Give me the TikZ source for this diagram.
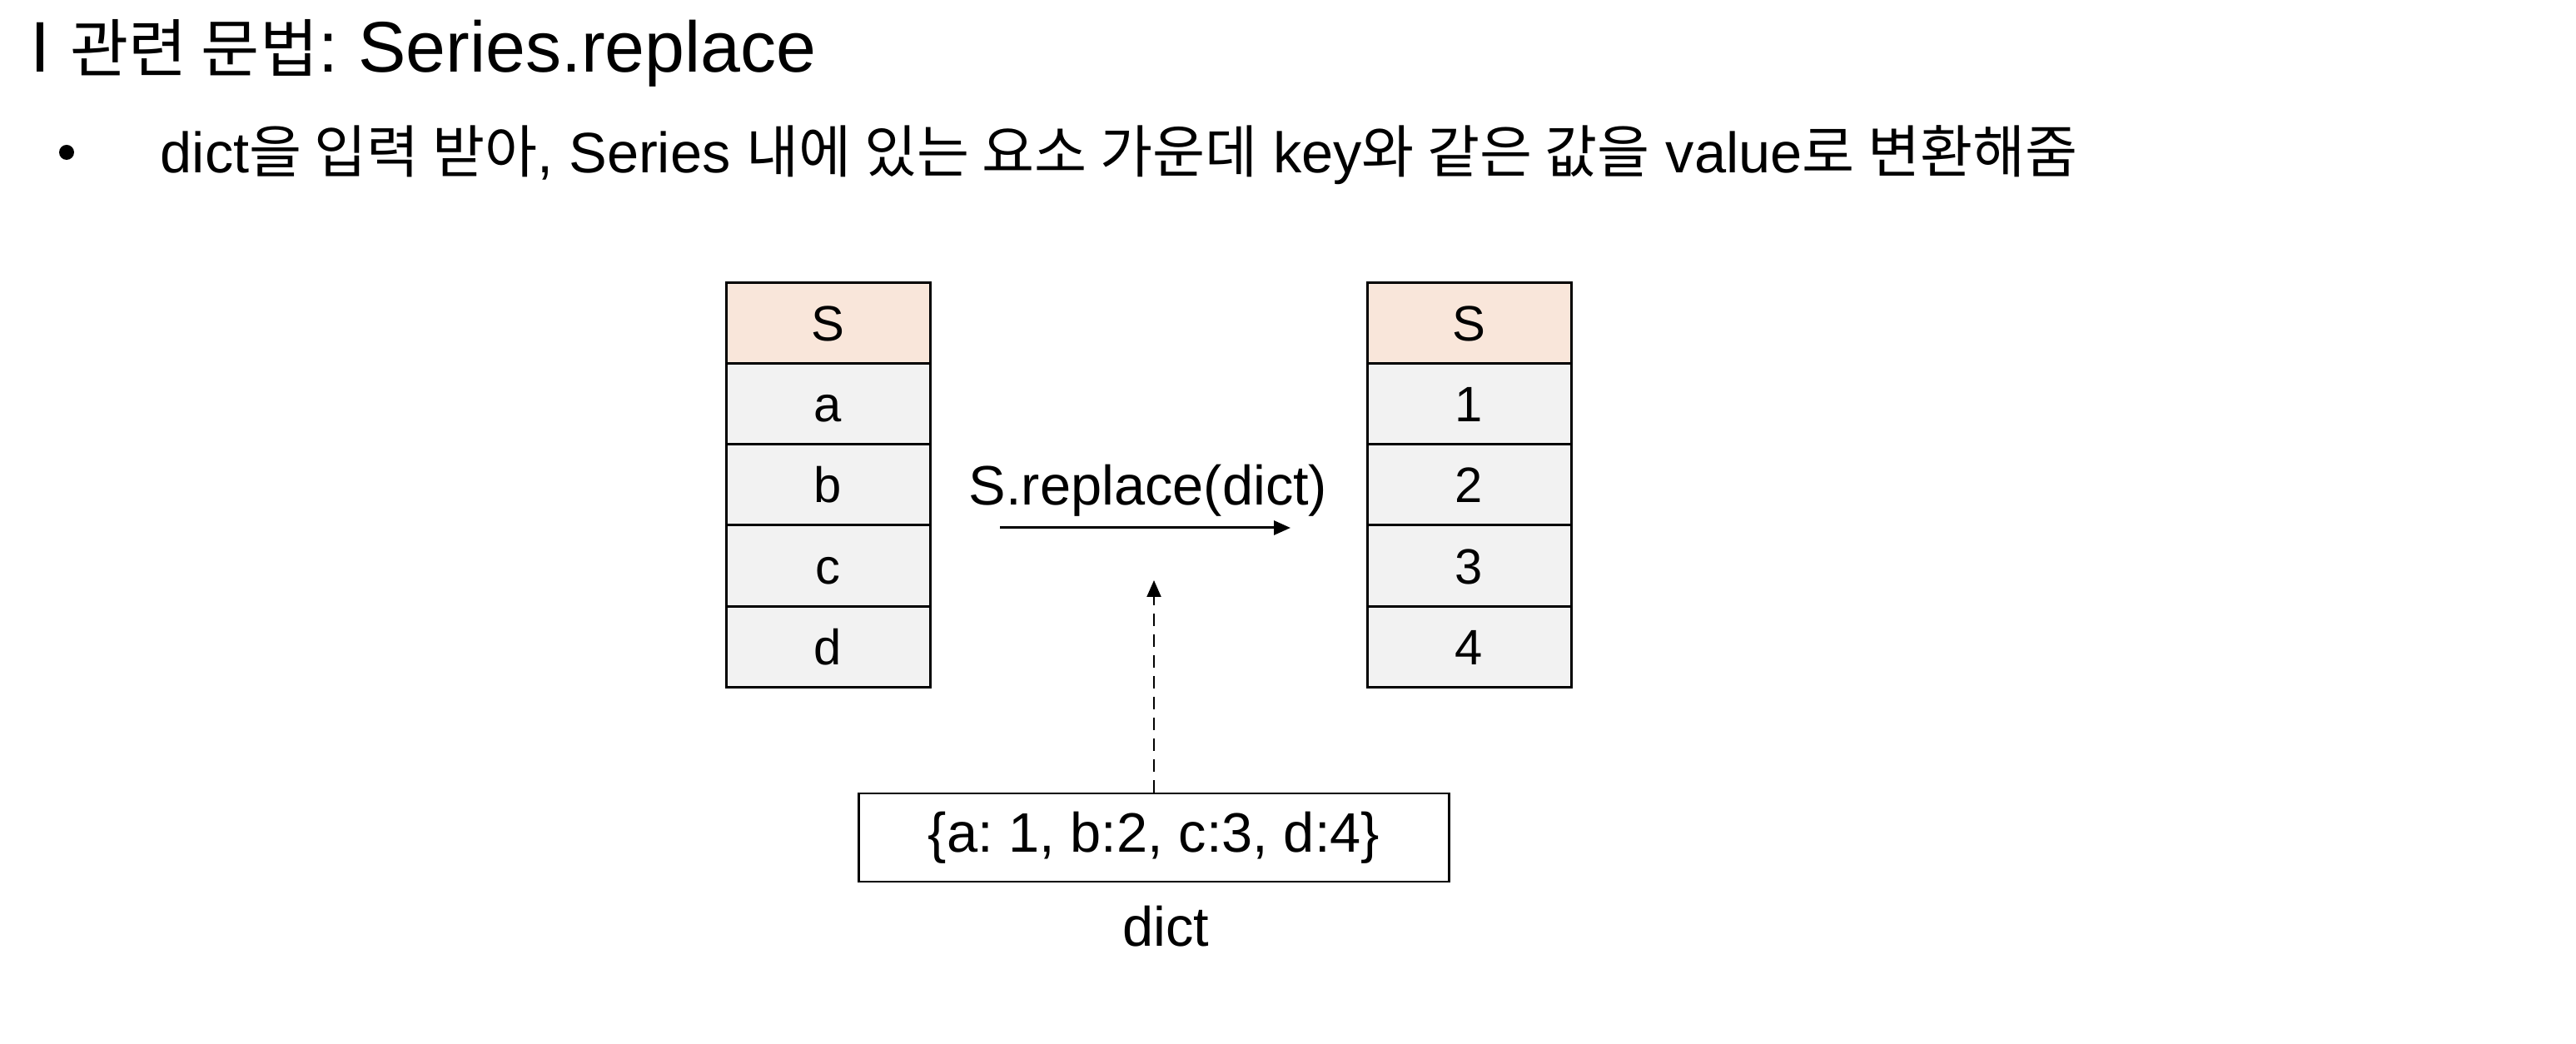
\documentclass[tikz,border=0pt]{standalone}
\usepackage{fontspec}
\setmainfont{Liberation Sans}
\newfontfamily\kr{Noto Sans CJK KR}
\usepackage{tikz}
\usetikzlibrary{positioning,arrows.meta}
\definecolor{headfill}{HTML}{F9E6DA}
\definecolor{cellfill}{HTML}{F2F2F2}
\frenchspacing

\begin{document}
\begin{tikzpicture}[
    cellbox/.style={draw, line width=0.85pt, fill=cellfill, minimum width=2.45cm, minimum height=0.972cm, inner sep=0pt, outer sep=0pt, text height=0.43cm, text depth=0pt, font=\fontsize{17}{20}\selectfont},
    headbox/.style={cellbox, fill=headfill},
    txt/.style={inner sep=0pt, font=\fontsize{19}{23}\selectfont},
    tip/.style={-{Triangle[length=0.2cm, width=0.17cm]}}
]
    % Page size
    \useasboundingbox (0,0) rectangle (30.94,-12.54);
    % Title and bullet line
    \node[anchor=base west, inner sep=0pt, font=\fontsize{24.5}{28}\selectfont] (title) at (0.36,-0.87) {I {\kr\fontsize{21.7}{26}\selectfont 관련 문법}: Series.replace};
    \node[circle, fill, inner sep=0pt, minimum size=0.18cm] (dot) at (0.80,-1.83) {};
    \node[anchor=base west, inner sep=0pt, font=\fontsize{19.5}{23}\selectfont] (desc) at (1.92,-2.08) {dict{\kr 을 입력 받아}, Series {\kr 내에 있는 요소 가운데} key{\kr 와 같은 값을} value{\kr 로 변환해줌}};
    % Series before
    \node[headbox] (ls) at (9.945,-3.88) {S};
    \node[cellbox, below=0pt of ls] (la) {a};
    \node[cellbox, below=0pt of la] (lb) {b};
    \node[cellbox, below=0pt of lb] (lc) {c};
    \node[cellbox, below=0pt of lc] (ld) {d};
    % Series after
    \node[headbox] (rs) at (17.645,-3.88) {S};
    \node[cellbox, below=0pt of rs] (r1) {1};
    \node[cellbox, below=0pt of r1] (r2) {2};
    \node[cellbox, below=0pt of r2] (r3) {3};
    \node[cellbox, below=0pt of r3] (r4) {4};
    % replace arrow
    \coordinate (callstart) at (12.01,-6.34);
    \coordinate (callend) at (15.50,-6.34);
    \draw[tip, line width=0.85pt] (callstart) -- (callend);
    \node[txt, anchor=base] (call) at (13.79,-6.07) {S.replace(dict)};
    % dict input
    \node[txt, draw, line width=0.6pt, minimum width=7.09cm, minimum height=1.06cm] (dictbox) at (13.86,-10.06) {\{a: 1, b:2, c:3, d:4\}};
    \node[txt, anchor=base] (dictname) at (14.0,-11.37) {dict};
    \coordinate (dicttip) at (13.86,-6.97);
    \draw[tip, line width=0.6pt, dash pattern=on 0.15cm off 0.1cm] (dictbox.north) -- (dicttip);
\end{tikzpicture}
\end{document}
